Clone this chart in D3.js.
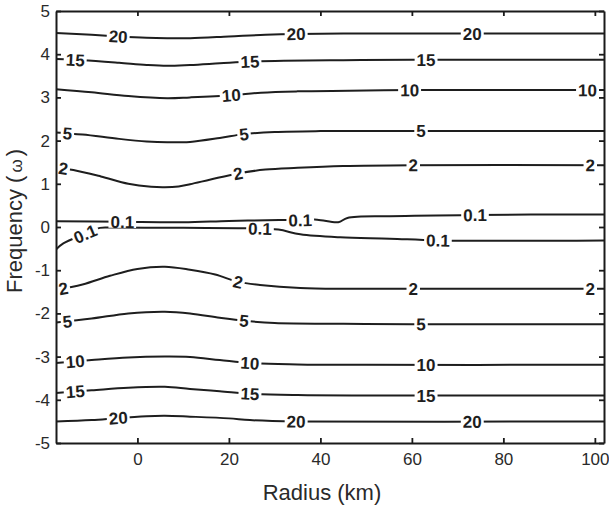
<!DOCTYPE html>
<html>
<head>
<meta charset="utf-8">
<script src="https://cdn.jsdelivr.net/npm/d3@7"></script>
<style>
  body { margin: 0; background: #fff; }
  svg { display: block; font-family: "Liberation Sans", Arial, sans-serif; }
</style>
</head>
<body>
<div id="wrapper"></div>
<script>
// tick labels
const xTicks = [0, 20, 40, 60, 80, 100]
const yTicks = [-5, -4, -3, -2, -1, 0, 1, 2, 3, 4, 5]

// contour lines: [radius km, frequency]
const line20a = [[-17.8,4.49],[-10,4.45],[-4,4.41],[2,4.38],[6.5,4.37],[11.5,4.37],[20,4.41],[28,4.45],[35,4.47],[45,4.48],[60,4.48],[80,4.48],[102,4.48]]
const line15a = [[-17.8,3.89],[-12,3.86],[-4,3.8],[2,3.75],[6.5,3.73],[11.5,3.75],[18,3.79],[24.6,3.83],[32,3.85],[45,3.86],[60,3.87],[102,3.87]]
const line10a = [[-17.8,3.19],[-10,3.12],[-2,3.03],[6.5,2.98],[11.5,3.0],[20.5,3.05],[27,3.11],[35,3.14],[50,3.16],[60,3.17],[102,3.17]]
const line5a  = [[-17.8,2.19],[-12,2.14],[-4,2.04],[2,1.98],[6.5,1.96],[11.5,1.97],[18,2.06],[23.3,2.15],[30,2.2],[40,2.22],[60,2.22],[102,2.22]]
const line2a  = [[-17.8,1.38],[-14,1.32],[-8,1.17],[-2,1.0],[3,0.93],[6,0.92],[9,0.94],[11.5,0.99],[16,1.1],[22,1.24],[28,1.33],[35,1.37],[45,1.41],[60,1.43],[102,1.43]]
const line01a = [[-17.8,0.135],[-3.3,0.12],[10,0.11],[20,0.14],[31,0.16],[35.6,0.16],[39.3,0.17],[43.9,0.11],[45.9,0.21],[55.2,0.25],[73.8,0.28],[102,0.29]]
const line01b = [[-17.8,-0.52],[-16.2,-0.38],[-11.4,-0.16],[-8.2,-0.02],[-6,-0.01],[10,-0.02],[24.6,-0.03],[30.8,-0.06],[35.6,-0.17],[44.3,-0.24],[55.2,-0.27],[65.5,-0.31],[102,-0.31]]
const line2b  = [[-17.8,-1.45],[-12,-1.33],[-6,-1.13],[0,-0.97],[6,-0.92],[11.5,-0.99],[17,-1.1],[22,-1.27],[26.8,-1.34],[35.6,-1.41],[45,-1.43],[60,-1.43],[102,-1.43]]
const line5b  = [[-17.8,-2.21],[-10,-2.12],[-2,-2.0],[6,-1.96],[11.5,-2.0],[18,-2.1],[23.3,-2.17],[30,-2.22],[45,-2.24],[60,-2.25],[102,-2.25]]
const line10b = [[-17.8,-3.15],[-10,-3.08],[-2,-3.02],[6,-3.0],[11.5,-3.01],[18,-3.08],[24.6,-3.15],[35,-3.18],[50,-3.19],[102,-3.19]]
const line15b = [[-17.8,-3.84],[-10,-3.78],[-2,-3.72],[6,-3.7],[11.5,-3.75],[18,-3.8],[24.6,-3.86],[35,-3.89],[50,-3.9],[102,-3.9]]
const line20b = [[-17.8,-4.5],[-10,-4.47],[-4.2,-4.42],[2,-4.38],[6,-4.37],[11.5,-4.39],[20,-4.43],[24.6,-4.47],[34.7,-4.5],[102,-4.5]]

// where the inline labels sit (radius km)
const labels20a = [-4.2, 34.7, 73.2]
const labels15a = [-13.6, 24.6, 63.1]
const labels10a = [20.5, 59.5, 98.4]
const labels5a  = [-15.3, 23.3, 62]
const labels2a  = [-16.2, 22, 60.3, 99]
const labels01a = [-3.3, 35.6, 73.8]
const labels01b = [-11.4, 26.8, 65.7]
const labels2b  = [-16.2, 22, 60.3, 99]
const labels5b  = [-15.3, 23.3, 62]
const labels10b = [-13.6, 24.6, 63.1]
const labels15b = [-13.6, 24.6, 63.1]
const labels20b = [-4.2, 34.7, 73.2]

const contours = [
  { level: "20", pts: line20a, at: labels20a },
  { level: "15", pts: line15a, at: labels15a },
  { level: "10", pts: line10a, at: labels10a },
  { level: "5", pts: line5a, at: labels5a },
  { level: "2", pts: line2a, at: labels2a },
  { level: "0.1", pts: line01a, at: labels01a },
  { level: "0.1", pts: line01b, at: labels01b },
  { level: "2", pts: line2b, at: labels2b },
  { level: "5", pts: line5b, at: labels5b },
  { level: "10", pts: line10b, at: labels10b },
  { level: "15", pts: line15b, at: labels15b },
  { level: "20", pts: line20b, at: labels20b },
]

function drawChart() {
  const dimensions = {
    width: 609,
    height: 508,
    margin: { top: 11, right: 5, bottom: 65, left: 56 },
  }
  dimensions.boundedWidth = dimensions.width - dimensions.margin.left - dimensions.margin.right
  dimensions.boundedHeight = dimensions.height - dimensions.margin.top - dimensions.margin.bottom

  const wrapper = d3.select("#wrapper")
    .append("svg")
    .attr("width", dimensions.width)
    .attr("height", dimensions.height)

  const bounds = wrapper.append("g")
    .attr("transform", `translate(${dimensions.margin.left},${dimensions.margin.top})`)

  bounds.append("clipPath").attr("id", "plot-clip")
    .append("rect")
    .attr("width", dimensions.boundedWidth)
    .attr("height", dimensions.boundedHeight)

  const xScale = d3.scaleLinear()
    .domain([-17.8, 102])
    .range([0, dimensions.boundedWidth])

  const yScale = d3.scaleLinear()
    .domain([-5, 5])
    .range([dimensions.boundedHeight, 0])

  const lineGenerator = d3.line()
    .x(d => xScale(d[0]))
    .y(d => yScale(d[1]))
    .curve(d3.curveCatmullRom.alpha(0.5))

  const plot = bounds.append("g").attr("clip-path", "url(#plot-clip)")

  const paths = plot.selectAll(".contour")
    .data(contours)
    .join("path")
    .attr("class", "contour")
    .attr("fill", "none")
    .attr("stroke", "#1e1e1e")
    .attr("stroke-width", 2)
    .attr("d", d => lineGenerator(d.pts))

  // inline labels, with a white gap behind them
  const labelLayer = plot.append("g")
  paths.each(function (d) {
    const node = this
    const total = node.getTotalLength()
    d.at.forEach(xv => {
      const target = xScale(xv)
      let lo = 0, hi = total
      for (let i = 0; i < 40; i++) {
        const mid = (lo + hi) / 2
        if (node.getPointAtLength(mid).x < target) lo = mid
        else hi = mid
      }
      const p = node.getPointAtLength(lo)
      const p1 = node.getPointAtLength(Math.max(0, lo - 4))
      const p2 = node.getPointAtLength(Math.min(total, lo + 4))
      let angle = Math.atan2(p2.y - p1.y, p2.x - p1.x) * 180 / Math.PI
      const g = labelLayer.append("g")
        .attr("transform", `translate(${p.x},${p.y}) rotate(${angle})`)
      const rect = g.append("rect").attr("fill", "#fff")
      const txt = g.append("text")
        .attr("text-anchor", "middle")
        .attr("dy", "0.36em")
        .attr("fill", "#1e1e1e")
        .style("font-size", "17px")
        .style("font-weight", "bold")
        .text(d.level)
      const w = txt.node().getComputedTextLength()
      rect.attr("x", -w / 2 - 2).attr("y", -6).attr("width", w + 4).attr("height", 12)
    })
  })

  // 6. axes, ticks pointing inward on all four sides
  const styleAxis = g => {
    g.selectAll("path.domain").attr("stroke", "#1a1a1a").attr("stroke-width", 2)
    g.selectAll(".tick line").attr("stroke", "#1a1a1a").attr("stroke-width", 1.8)
    g.selectAll(".tick text")
      .attr("fill", "#2a2a2a")
      .style("font-size", "17px")
      .style("font-family", "'Liberation Sans', Arial, sans-serif")
  }

  bounds.append("g")
    .attr("transform", `translate(0,${dimensions.boundedHeight})`)
    .call(d3.axisBottom(xScale).tickValues(xTicks).tickSizeInner(-5).tickSizeOuter(0).tickPadding(10).tickFormat(d => String(d)))
    .call(styleAxis)

  bounds.append("g")
    .call(d3.axisTop(xScale).tickValues(xTicks).tickSizeInner(-5).tickSizeOuter(0).tickFormat(""))
    .call(styleAxis)

  bounds.append("g")
    .call(d3.axisLeft(yScale).tickValues(yTicks).tickSizeInner(-5).tickSizeOuter(0).tickPadding(6).tickFormat(d => String(d)))
    .call(styleAxis)

  bounds.append("g")
    .attr("transform", `translate(${dimensions.boundedWidth},0)`)
    .call(d3.axisRight(yScale).tickValues(yTicks).tickSizeInner(-5).tickSizeOuter(0).tickFormat(""))
    .call(styleAxis)

  wrapper.selectAll(".tick text").attr("font-family", null)

  // axis titles
  wrapper.append("text")
    .attr("x", 322)
    .attr("y", 500)
    .attr("text-anchor", "middle")
    .attr("fill", "#2a2a2a")
    .style("font-size", "22px")
    .text("Radius (km)")

  const yLabel = wrapper.append("text")
    .attr("transform", "translate(22,221) rotate(-90)")
    .attr("text-anchor", "middle")
    .attr("fill", "#2a2a2a")
    .style("font-size", "22px")
  yLabel.append("tspan").text("Frequency (")
  yLabel.append("tspan").style("font-size", "17px").attr("dx", 3).text("ω")
  yLabel.append("tspan").attr("dx", 3).text(")")
}
drawChart()
</script>
</body>
</html>
